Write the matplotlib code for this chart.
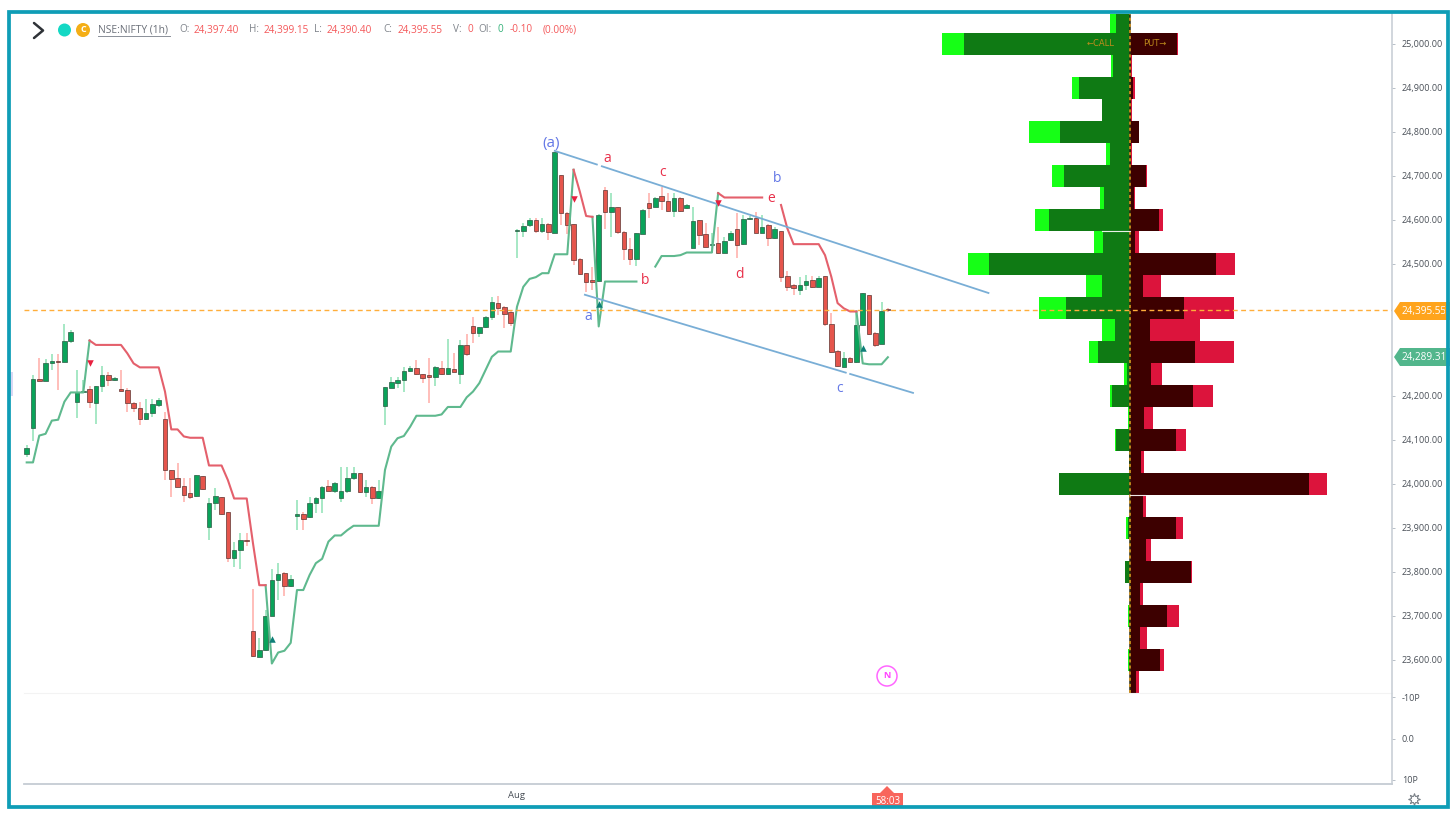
import numpy as np
import matplotlib
matplotlib.use("Agg")
import matplotlib.pyplot as plt
from matplotlib.patches import Rectangle, Polygon, Circle

plt.rcParams['font.family'] = ['Open Sans', 'DejaVu Sans']

# ---------- candles (1h NIFTY) ----------
opens = [24068,24127,24239,24233,24274,24280,24278,24326,24187,24208,24215,24185,24223,24248,24237,24215,24214,24185,24173,24148,24162,24180,24148,24031,24014,23995,23980,23973,24019,23902,23956,23971,23936,23831,23850,23873,23665,23606,23623,23700,23782,23797,23768,
         23928,23932,23924,23956,23969,23996,23983,23968,23983,24013,24026,23981,23992,23967,24177,24219,24229,24236,24257,24263,24250,24248,24242,24263,24250,24262,24251,24316,24360,24342,24356,24379,24412,24402,24391,24574,24576,24589,24600,24575,24590,24571,24702,24615,24591,24511,24479,24463,24461,
         24668,24617,24630,24572,24533,24512,24568,24639,24630,24654,24644,24620,24651,24628,24537,24600,24567,24542,24548,24526,24555,24580,24545,24602,24605,24571,24589,24558,24574,24473,24452,24441,24452,24463,24448,24473,24364,24303,24265,24287,24278,24361,24430,24344,24318,24397.40]
highs = [24089,24248,24286,24283,24295,24295,24364,24350,24259,24236,24223,24223,24267,24255,24244,24259,24217,24187,24187,24192,24192,24195,24164,24031,24048,24013,24013,24020,24019,23967,23990,23971,23936,23869,23889,23889,23761,23649,23714,23806,23820,23801,23793,
         23964,23937,23971,23971,23995,24008,24005,24038,24038,24038,24026,24008,23995,24010,24221,24242,24242,24265,24268,24282,24251,24286,24267,24279,24329,24297,24327,24341,24380,24357,24382,24426,24428,24404,24395,24579,24592,24604,24604,24604,24592,24754,24702,24617,24591,24513,24480,24494,24613,
         24676,24661,24630,24574,24558,24570,24624,24662,24653,24674,24661,24661,24653,24636,24629,24600,24592,24570,24585,24562,24574,24615,24611,24609,24617,24611,24590,24585,24574,24483,24455,24471,24475,24473,24473,24473,24388,24305,24301,24289,24392,24434,24430,24346,24413,24399.15]
lows = [24062,24098,24233,24233,24259,24214,24278,24320,24149,24206,24172,24136,24210,24223,24233,24211,24164,24164,24134,24145,24153,24176,24008,23971,23992,23960,23965,23971,23986,23873,23941,23930,23823,23811,23806,23859,23606,23606,23621,23700,23736,23745,23767,
        23895,23895,23922,23933,23933,23983,23980,23960,23979,24009,23979,23971,23954,23965,24134,24217,24217,24210,24255,24248,24229,24185,24223,24248,24248,24255,24227,24291,24320,24333,24354,24373,24384,24354,24358,24513,24561,24585,24570,24570,24555,24570,24589,24568,24498,24475,24437,24441,24460,
        24580,24561,24568,24508,24498,24495,24567,24604,24629,24623,24619,24606,24619,24626,24536,24543,24538,24524,24523,24524,24553,24513,24543,24600,24570,24570,24541,24556,24460,24439,24430,24430,24441,24445,24447,24358,24298,24265,24265,24274,24276,24359,24339,24312,24317,24390.40]
closes = [24081,24239,24233,24274,24280,24278,24326,24345,24208,24212,24186,24223,24248,24236,24241,24211,24185,24172,24148,24161,24182,24191,24032,24011,23992,23975,23970,24020,23989,23956,23972,23931,23831,23850,23872,23870,23608,23623,23700,23782,23795,23769,23785,
          23931,23920,23956,23969,23994,23985,24002,23983,24013,24026,23981,23992,23967,23985,24221,24232,24236,24257,24263,24249,24240,24242,24265,24250,24263,24255,24316,24295,24342,24356,24380,24414,24400,24386,24365,24577,24587,24599,24575,24591,24572,24754,24615,24589,24509,24477,24460,24460,24611,
          24617,24629,24572,24533,24511,24570,24623,24628,24651,24643,24620,24649,24621,24635,24598,24565,24539,24545,24524,24553,24570,24543,24602,24605,24571,24585,24558,24580,24471,24448,24445,24452,24462,24447,24469,24364,24301,24267,24286,24277,24361,24434,24341,24315,24394,24395.55]

# ---------- supertrend segments: (first bar number, values) ----------
green_a_start = 1
green_a = [24049,24049,24110,24114,24144,24146,24187,24208,24208,24208,24326]
red_a_start = 11
red_a = [24326,24316,24316,24316,24316,24316,24297,24274,24265,24265,24265,24265,24210,24124,24124,24108,24105,24105,24105,24042,24042,24042,24009,23967,23967,23967,23865,23770,23770]
green_b_start = 39
green_b = [23770,23592,23617,23621,23639,23759,23759,23793,23820,23830,23869,23883,23883,23895,23905,23905,23905,23905,23905,24032,24085,24104,24109,24130,24155,24155,24155,24155,24158,24175,24175,24175,24197,24210,24229,24259,24289,24301,24301,24301,24403,24448,24466,24470,24479,24479,24522,24522,24522,24714]
red_b_start = 88
red_b = [24714,24664,24609,24607]
green_c_start = 91
green_c = [24607,24358,24460,24460,24460,24460,24460,24460,np.nan,np.nan,24494,24518,24518,24518,24520,24526,24526,24526,24526,24526,24661]
red_c_start = 111
red_c = [24661,24651,24651,24651,24651,24651,24651,24651,np.nan,np.nan,24634,24581,24545,24545,24545,24545,24545,24520,24471,24411,24399,24392,24392]
green_d_start = 133
green_d = [24392,24274,24272,24272,24272,24288]

# supertrend flip arrows
sell_bars = [11, 88, 111]
sell_prices = [24275, 24648, 24639]
buy_bars = [40, 92, 134]
buy_prices = [23648, 24410, 24310]

# ---------- option chain profile ----------
strikes = [25050,25000,24950,24900,24850,24800,24750,24700,24650,24600,24550,24500,24450,24400,24350,24300,24250,24200,24150,24100,24050,24000,23950,23900,23850,23800,23750,23700,23650,23600,23550]
call_oi = [14.3,165.7,17.5,51,27.7,70,20,66,25.7,81,26.7,140.7,27.7,64,15,31.7,2.7,17.7,0.7,14.3,1,71,0.3,1.7,0.3,4.7,0.3,1.3,0.3,1,0]
call_total = [20,188.3,19,58,28,101,24.3,77.7,30,95,36.3,162.3,44,91,28,40.7,6,20.3,2.3,14.7,1.3,71.3,0.5,4,0.5,5.3,0.5,2,0.5,2.3,0]
put_oi = [0,47.3,1,3.3,1,9,1.3,16.3,3.7,29,4.7,85.7,13.3,54.3,20.3,65.3,21,63.3,13.7,45.7,10.7,179.3,12.7,45.7,16,61.3,10,37.3,10,29.7,6]
put_total = [0,48,1.5,4.7,1.5,9.3,2,16.5,5,33,9.3,105.3,30.7,103.7,70,104,32,83.3,23.3,56,14.3,197,16.3,53.3,21.3,61.5,13,49.3,17.3,34.3,9]

# trend channel
upper_bars = [85, 91.7, 92.5, 154]
upper_prices = [24757, 24726, 24722, 24434]
lower_bars = [89.8, 131.3, 132, 142]
lower_prices = [24430, 24253, 24250, 24207]

price_ticks = [25000,24900,24800,24700,24600,24500,24200,24100,24000,23900,23800,23700,23600]
osc_ticks = [-10, 0, 10]
osc_labels = ['-10P', '0.0', '10P']
last_price = 24395.55
trend_price = 24289.31

W, H = 1456, 819
fig = plt.figure(figsize=(W/100, H/100), dpi=100, facecolor='white')

def axbox(x0, y0, x1, y1):
    return [x0/W, 1-y1/H, (x1-x0)/W, (y1-y0)/H]

TICK = '#4a5058'
ax = fig.add_axes(axbox(24, 14, 1392, 693))
ax.set_xlim(0.57, 218.2)
ax.set_ylim(23525, 25068)
ax.patch.set_alpha(0)
for s in ax.spines.values():
    s.set_visible(False)
ax.yaxis.tick_right()
ax.set_yticks(price_ticks)
ax.set_yticklabels([f'{t:,.2f}' for t in price_ticks], fontsize=6.5, color=TICK)
ax.tick_params(axis='y', length=2.2, width=0.7, color='#b8c0c8', pad=5)
ax.set_xticks([])

bars = np.arange(1, len(opens)+1)
o, h, l, c = map(np.array, (opens, highs, lows, closes))
up = c >= o
ax.vlines(bars[up], l[up], h[up], color='#9fe6c0', lw=1.3, zorder=2)
ax.vlines(bars[~up], l[~up], h[~up], color='#ffb9b4', lw=1.3, zorder=2)
bw = 0.72
ax.bar(bars[up], (c-o)[up], bottom=o[up], width=bw, color='#0aa35a', edgecolor='#2c5a44', lw=0.5, zorder=3)
ax.bar(bars[~up], (c-o)[~up], bottom=o[~up], width=bw, color='#e5554c', edgecolor='#5e3532', lw=0.5, zorder=3)

GREEN_ST, RED_ST = '#5fb98e', '#e4606c'
for start, vals, col in [(green_a_start, green_a, GREEN_ST), (green_b_start, green_b, GREEN_ST),
                         (green_c_start, green_c, GREEN_ST), (green_d_start, green_d, GREEN_ST),
                         (red_a_start, red_a, RED_ST), (red_b_start, red_b, RED_ST), (red_c_start, red_c, RED_ST)]:
    ax.plot(np.arange(start, start+len(vals)), vals, color=col, lw=1.5, zorder=4, solid_joinstyle='round')

ax.scatter(sell_bars, sell_prices, marker='v', s=22, color='#e8203f', zorder=5, linewidths=0)
ax.scatter(buy_bars, buy_prices, marker='^', s=22, color='#0f7f78', zorder=5, linewidths=0)

BLUE_LINE = '#79aed6'
for a, b in [(0, 2), (2, 4)]:
    ax.plot(upper_bars[a:b], upper_prices[a:b], color=BLUE_LINE, lw=1.3, zorder=4)
    ax.plot(lower_bars[a:b], lower_prices[a:b], color=BLUE_LINE, lw=1.3, zorder=4)

# option profile axis, sharing the price scale
oi = fig.add_axes(axbox(24, 14, 1392, 693), sharey=ax)
oi.set_xlim(24-1130, 1392-1130)
oi.patch.set_alpha(0)
oi.axis('off')
ys = np.array(strikes)
oi.barh(ys, -np.array(call_total), height=50, color='#16ff16', zorder=2)
oi.barh(ys, -np.array(call_oi), height=50, color='#0f7a14', zorder=3)
oi.barh(ys, put_total, height=50, color='#dc143c', zorder=2)
oi.barh(ys, put_oi, height=50, color='#3d0000', zorder=3)
oi.axvline(0, color='#2a2a10', lw=1.1, zorder=4)
oi.axvline(0, color='#e8a020', lw=1.1, ls=(0, (2, 2)), zorder=5)
oi.axhline(last_price, color='#ffae3b', lw=1.0, ls=(0, (3.5, 2.5)), zorder=6)
oi.text(-43, 25000, '←CALL', fontsize=6, color='#c08d1c', ha='left', va='center', zorder=7, family=['DejaVu Sans'])
oi.text(13, 25000, 'PUT→', fontsize=6, color='#c08d1c', ha='left', va='center', zorder=7, family=['DejaVu Sans'])
oi.plot([-28, 0], [24575, 24575], color='#e8f0e8', lw=0.8, zorder=6)
oi.plot([0, 15], [23975, 23975], color='#f0e8e8', lw=0.8, zorder=6)

# oscillator pane
sub = fig.add_axes(axbox(24, 693, 1392, 784))
sub.set_xlim(0, 1)
sub.set_ylim(11, -11)
sub.patch.set_alpha(0)
for s in sub.spines.values():
    s.set_visible(False)
sub.yaxis.tick_right()
sub.set_yticks(osc_ticks)
sub.set_yticklabels(osc_labels, fontsize=6.5, color=TICK)
sub.tick_params(axis='y', length=2.2, width=0.7, color='#b8c0c8', pad=5)
sub.set_xticks([])

# overlay in pixel space for chrome
top = fig.add_axes([0, 0, 1, 1], zorder=20)
top.set_xlim(0, W)
top.set_ylim(H, 0)
top.axis('off')
top.patch.set_alpha(0)

top.plot([24, 1392], [693, 693], color='#f3f3f3', lw=0.8)
top.plot([1392, 1392], [14, 784], color='#c5ccd3', lw=1.1)
top.plot([24, 1392], [784, 784], color='#c5ccd3', lw=1.3)
top.add_patch(Rectangle((10, 372), 2.5, 24, color='#d8d8f4', lw=0))

# wave labels
BLUE_T, RED_T = '#6478e6', '#e8304a'
for x, y, s, col, fs in [(551, 143, '(a)', BLUE_T, 11), (607, 159, 'a', RED_T, 10), (663, 173, 'c', RED_T, 10),
                         (777, 178, 'b', BLUE_T, 10), (771, 199, 'e', RED_T, 10), (645, 281, 'b', RED_T, 10),
                         (740, 274, 'd', RED_T, 10), (588, 316, 'a', BLUE_T, 10), (840, 388, 'c', BLUE_T, 10)]:
    top.text(x, y, s, color=col, fontsize=fs, ha='center', va='center')

# header
top.plot([34, 43, 34], [23, 30.5, 38], color='#2f3338', lw=1.8, solid_capstyle='round')
top.add_patch(Circle((64.5, 30), 6.5, color='#14d8c4', lw=0))
top.add_patch(Circle((83, 30), 7, color='#f4ae16', lw=0))
top.text(83, 30, 'C', color='white', fontsize=6.5, ha='center', va='center', fontweight='bold')
top.text(98, 30, 'NSE:NIFTY (1h)', color='#6a6f78', fontsize=7.4, ha='left', va='center')
top.plot([98, 170], [36, 36], color='#8a8f98', lw=0.7)
GREY, RD, GN = '#80858c', '#f4585a', '#35b27a'
for x, s, col in [(179, 'O:', GREY), (194, '24,397.40', RD), (249, 'H:', GREY), (264, '24,399.15', RD),
                  (314, 'L:', GREY), (327, '24,390.40', RD), (383, 'C:', GREY), (398, '24,395.55', RD),
                  (453, 'V:', GREY), (467, '0', RD), (478, 'OI:', GREY), (497, '0', GN),
                  (510, '-0.10', RD), (543, '(0.00%)', RD)]:
    top.text(x, 30, s, color=col, fontsize=7.2, ha='left', va='center')

# price tags
def tag(y, col, txt):
    p = Polygon([(1394, y), (1400, y-9), (1450, y-9), (1450, y+9), (1400, y+9)], closed=True, color=col, lw=0)
    top.add_patch(p)
    t = top.text(1402, y+0.5, txt, color='white', fontsize=7.2, ha='left', va='center', clip_on=True)
    t.set_clip_path(Rectangle((8, 12), 1437, 795, transform=top.transData))

tag(311, '#ffa41c', f'{last_price:,.2f}')
tag(357, '#52b68c', f'{trend_price:,.2f}')

# bottom labels
top.text(516, 796, 'Aug', color=TICK, fontsize=6.8, ha='center', va='center')
top.add_patch(Polygon([(880, 793), (887, 786), (894, 793), (903, 793), (903, 808), (872, 808), (872, 793)],
                      closed=True, color='#f8655c', lw=0))
t = top.text(887.5, 802, '58:03', color='white', fontsize=7, ha='center', va='center', clip_on=True)
t.set_clip_path(Rectangle((8, 12), 1440, 793.5, transform=top.transData))
top.scatter([1414], [799], s=70, marker=(8, 1, 0), facecolor='white', edgecolor='#7a8087', lw=0.8)
top.scatter([1414], [799], s=16, marker='o', facecolor='white', edgecolor='white', lw=0)

# news marker
top.add_patch(Circle((887, 676), 10, fill=False, ec='#ff66ff', lw=1.1))
top.text(887, 676, 'N', color='#ff40ff', fontsize=6.5, ha='center', va='center', fontweight='bold')

# border
top.add_patch(Rectangle((8.5, 12), 1439.5, 795, fill=False, ec='#0f9db6', lw=2.7, zorder=30))

fig.savefig('out.png', dpi=100, facecolor='white')
